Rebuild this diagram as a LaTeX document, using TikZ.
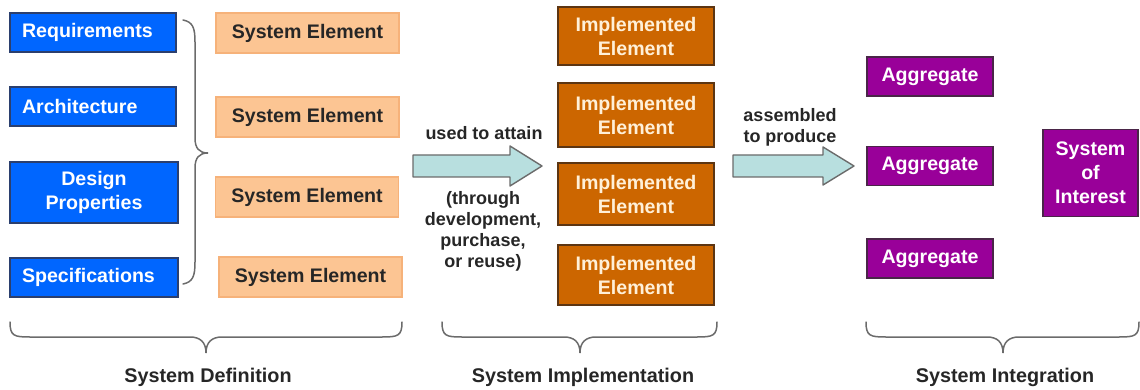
\documentclass[tikz,border=0pt]{standalone}
\usepackage{fontspec}
\setmainfont{Liberation Sans}
\definecolor{defblue}{HTML}{0066FF}
\definecolor{defblueline}{HTML}{2B3F6E}
\definecolor{elempeach}{HTML}{FCC593}
\definecolor{elempeachline}{HTML}{F6B27A}
\definecolor{implorange}{HTML}{CC6600}
\definecolor{implorangeline}{HTML}{5C3512}
\definecolor{implcream}{HTML}{FFF0D8}
\definecolor{aggpurple}{HTML}{990099}
\definecolor{aggpurpleline}{HTML}{4A2548}
\definecolor{arrowcyan}{HTML}{B8DFDF}
\definecolor{bracegrey}{HTML}{6B6B6B}
\definecolor{labelink}{HTML}{262626}
\tikzset{
  box/.style={draw, line width=1.2pt, inner sep=0pt, align=center,
    font=\bfseries\fontsize{19.6}{24}\selectfont},
  defbox/.style={box, fill=defblue, draw=defblueline, text=white},
  elembox/.style={box, fill=elempeach, draw=elempeachline, text=labelink,
    minimum width=183, minimum height=40},
  implbox/.style={box, fill=implorange, draw=implorangeline, text=implcream,
    minimum width=156, minimum height=60},
  aggbox/.style={box, fill=aggpurple, draw=aggpurpleline, text=white},
  blockarrow/.style={fill=arrowcyan, draw=bracegrey, line width=1.4pt, line join=round},
  bracepath/.style={draw=bracegrey, line width=1.5pt, line cap=round},
  note/.style={inner sep=0pt, align=center, text=labelink,
    font=\bfseries\fontsize{18}{21}\selectfont},
  phase/.style={inner sep=0pt, text=labelink,
    font=\bfseries\fontsize{19.8}{23}\selectfont}
}
% horizontal brace opening upwards: left end, tip, right end
\newcommand\lowbrace[3]{%
  \draw[bracepath] (#1,322) .. controls (#1,336) and ({#1+4},337) .. ({#1+20},337)
    -- ({#2-16},337) .. controls ({#2-6},337) and (#2,342) .. (#2,353)
    .. controls (#2,342) and ({#2+6},337) .. ({#2+16},337)
    -- ({#3-20},337) .. controls ({#3-4},337) and (#3,336) .. (#3,322);}
\begin{document}
\begin{tikzpicture}[x=1pt,y=-1pt]
\useasboundingbox (0,0) rectangle (1140,390);

% system definition inputs
\node[defbox, minimum width=166, minimum height=39, text width=142, align=left] (req) at (93,32.5) {Requirements};
\node[defbox, minimum width=166, minimum height=39, text width=142, align=left] (arch) at (93,106.5) {Architecture};
\node[defbox, minimum width=168, minimum height=61] (design) at (94,192.5) {Design\\Properties};
\node[defbox, minimum width=168, minimum height=39, text width=144, align=left] (spec) at (94,277.5) {Specifications};

% brace gathering the inputs
\draw[bracepath] (183,20) .. controls (193,22) and (195,28) .. (195,42)
  -- (195,138) .. controls (195,148) and (199,153) .. (208,153)
  .. controls (199,153) and (195,158) .. (195,168)
  -- (195,262) .. controls (195,276) and (193,282) .. (183,284);

% system elements
\node[elembox] (se1) at (307.5,33) {System Element};
\node[elembox] (se2) at (307.5,117) {System Element};
\node[elembox] (se3) at (307,197) {System Element};
\node[elembox] (se4) at (310.5,277) {System Element};

% first transition
\draw[blockarrow] (413,155) -- (510,155) -- (510,146) -- (542,166)
  -- (510,186) -- (510,177) -- (413,177) -- cycle;
\node[note] (attain) at (484,133) {used to attain};
\node[note] (through) at (483,231) {(through\\development,\\purchase,\\or reuse)};

% implemented elements
\node[implbox, minimum height=58] (ie1) at (636,36) {Implemented\\Element};
\node[implbox, minimum height=64] (ie2) at (636,115) {Implemented\\Element};
\node[implbox, minimum height=62] (ie3) at (636,194) {Implemented\\Element};
\node[implbox] (ie4) at (636,275) {Implemented\\Element};

% second transition
\draw[blockarrow] (733,155) -- (823,155) -- (823,147) -- (854,166)
  -- (823,185) -- (823,177) -- (733,177) -- cycle;
\node[note] (assembled) at (790,127.5) {assembled\\to produce};

% aggregates and the system of interest
\node[aggbox, minimum width=126, minimum height=39] (ag1) at (930,76.5) {Aggregate};
\node[aggbox, minimum width=126, minimum height=39] (ag2) at (930,166) {Aggregate};
\node[aggbox, minimum width=126, minimum height=39] (ag3) at (930,258.5) {Aggregate};
\node[aggbox, minimum width=95, minimum height=87] (soi) at (1090.5,173) {System\\of\\Interest};

% phase braces and captions
\lowbrace{10}{206}{402}
\lowbrace{442}{580}{717}
\lowbrace{866}{1003}{1139}
\node[phase] (def) at (208,377) {System Definition};
\node[phase] (impl) at (583,377) {System Implementation};
\node[phase] (integ) at (1005,377) {System Integration};
\end{tikzpicture}
\end{document}
